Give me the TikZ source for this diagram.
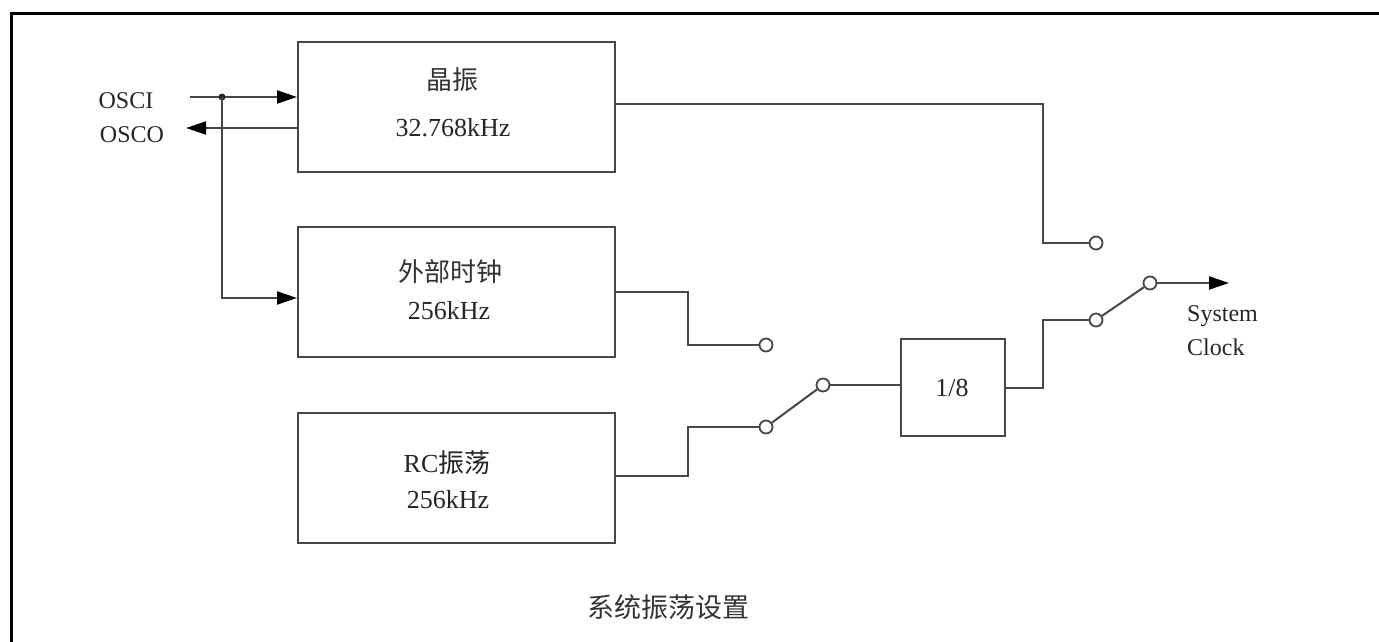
\documentclass[tikz,border=0pt]{standalone}
\usepackage{fontspec}
\setmainfont{Liberation Serif}
\newfontfamily\cjk{Noto Sans CJK SC}
\usetikzlibrary{arrows.meta}
\begin{document}
\begin{tikzpicture}[x=1pt,y=-1pt,
  wire/.style={draw=black!72,line width=2pt},
  blk/.style={draw=black!72,line width=2pt,fill=white,inner sep=0pt},
  term/.style={circle,draw=black!72,line width=1.8pt,fill=white,inner sep=0pt,minimum size=13pt},
  arr/.style={-{Triangle[length=20pt,width=13pt,fill=black,color=black]}},
  lbl/.style={font=\fontsize{26}{30}\selectfont,inner sep=0pt,text=black!85},
  slbl/.style={font=\fontsize{24}{34}\selectfont,inner sep=0pt,text=black!85},
  clbl/.style={font=\cjk\fontsize{26}{30}\selectfont,inner sep=0pt,text=black!80}]
\useasboundingbox (0,0) rectangle (1379,641);
\draw[line width=3pt] (1400,13) -- (11,13) -- (11,660);
% boxes
\node[blk,minimum width=317pt,minimum height=130pt] (b1) at (456.5,107) {};
\node[blk,minimum width=317pt,minimum height=130pt] (b2) at (456.5,292) {};
\node[blk,minimum width=317pt,minimum height=130pt] (b3) at (456.5,478) {};
\node[blk,minimum width=104pt,minimum height=97pt] (b4) at (952.5,387.5) {};
% box texts
\node[clbl] (t1a) at (452,80) {晶振};
\node[lbl] (t1b) at (453,128) {32.768kHz};
\node[clbl] (t2a) at (450,272) {外部时钟};
\node[lbl] (t2b) at (449,311) {256kHz};
\node[lbl] (t3a) at (447,463) {RC{\cjk 振荡}};
\node[lbl] (t3b) at (448,500) {256kHz};
\node[lbl] (t4) at (952,388) {1/8};
% side labels
\node[slbl] (osci) at (126,101) {OSCI};
\node[slbl] (osco) at (132,135) {OSCO};
\node[slbl,anchor=north west,align=left] (sys) at (1187,305) {System\\Clock};
\node[clbl,font=\cjk\fontsize{27}{30}\selectfont] (cap) at (668,607) {系统振荡设置};
% terminals
\node[term] (c1) at (1096,243) {};
\node[term] (c2) at (766,345) {};
\node[term] (c3) at (766,427) {};
\node[term] (c4) at (823,385) {};
\node[term] (c5) at (1096,320) {};
\node[term] (c6) at (1150,283) {};
\coordinate (ia) at (190,97);
\coordinate (dot) at (222,97);
\coordinate (oe) at (186,128);
\coordinate (so) at (1229,283);
% OSC wiring
\draw[wire,arr] (ia) -- (ia -| b1.west);
\draw[wire,arr] (oe -| b1.west) -- (oe);
\fill[black!85] (dot) circle (3.5pt);
\draw[wire,arr] (dot) -- (222,298) -- (b2.west |- 0,298);
% outputs
\draw[wire] (b1.east |- 0,104) -- (1043,104) |- (c1.west);
\draw[wire] (b2.east) -- (688,292) |- (c2.west);
\draw[wire] (b3.east |- 0,476) -- (688,476) |- (c3.west);
\draw[wire] (c3) -- (c4);
\draw[wire] (c4.east) -- (c4.east -| b4.west);
\draw[wire] (b4.east) -- (1043,387.5) |- (c5.west);
\draw[wire] (c5) -- (c6);
\draw[wire,arr] (c6.east) -- (so);
\end{tikzpicture}
\end{document}
